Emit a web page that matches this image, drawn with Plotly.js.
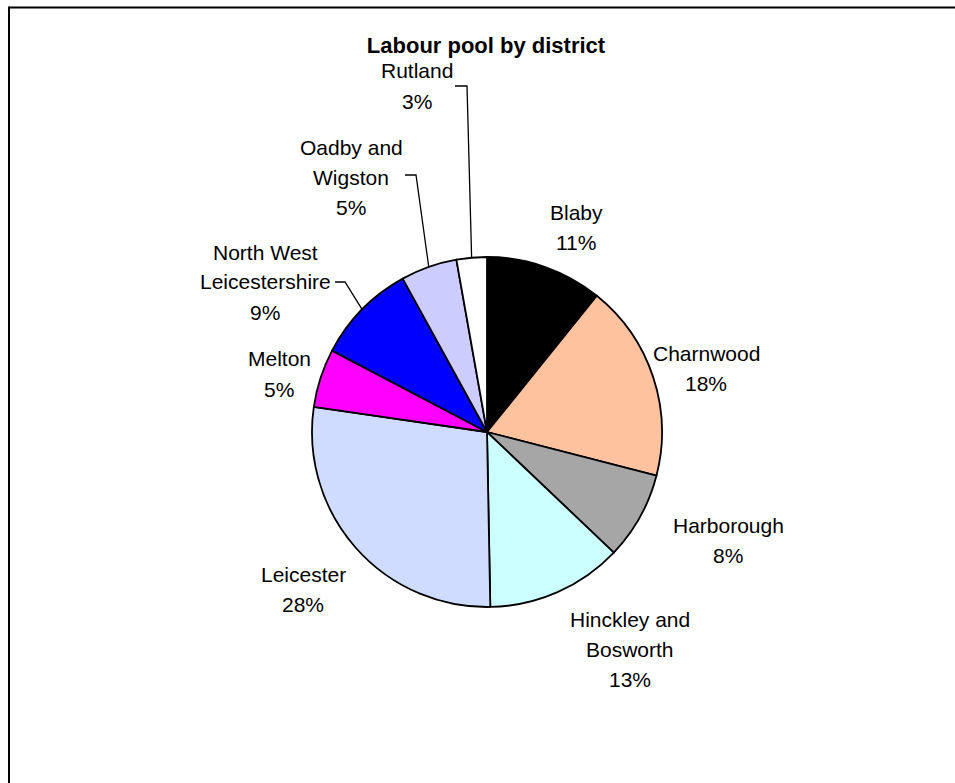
<!DOCTYPE html>
<html>
<head>
<meta charset="utf-8">
<script src="https://cdn.plot.ly/plotly-3.0.1.min.js"></script>
<style>html,body{margin:0;padding:0;background:#fff;}#chart{width:955px;height:783px;}</style>
</head>
<body>
<div id="chart"></div>
<script>
// ---- data ----
var districts = ['Blaby', 'Charnwood', 'Harborough', 'Hinckley and<br>Bosworth', 'Leicester',
                 'Melton', 'North West<br>Leicestershire', 'Oadby and<br>Wigston', 'Rutland'];
var shares = [10.8, 18.2, 8.1, 12.6, 27.6, 5.4, 9.3, 5.2, 2.8];
var sliceColors = ['#000000', '#FFC29E', '#A6A6A6', '#CCFFFF', '#D0DCFF',
                   '#FF00FF', '#0000FF', '#CCCCFF', '#FFFFFF'];
var chartTitle = 'Labour pool by district';

// ---- layout config (pixels) ----
var W = 955, H = 783;
var pieCx = 487, pieCy = 432, pieR = 175;
var lineGap = 30;
var labelPos = [[576, 212], [706, 353], [728, 525], [630, 619], [303, 574],
                [279, 359], [265, 252], [351, 147], [417, 71]];
// leader lines: [index, labelEndX, labelEndY, elbowX]
var leaders = [[8, 455, 86, 467], [7, 405, 175, 416], [6, 335, 282, 345]];

function px(x) { return x / W; }
function py(y) { return 1 - y / H; }

var total = shares.reduce(function (a, b) { return a + b; }, 0);
var annotations = [];
shares.forEach(function (v, i) {
  var lines = districts[i].split('<br>');
  lines.push(Math.round(v / total * 100) + '%');
  lines.forEach(function (t, k) {
    annotations.push({
      xref: 'paper', yref: 'paper',
      x: px(labelPos[i][0]), y: py(labelPos[i][1] + k * lineGap),
      xanchor: 'center', yanchor: 'middle',
      text: t, showarrow: false,
      font: {family: 'Liberation Sans, Arial, sans-serif', size: 21, color: '#000'}
    });
  });
});

// slice mid-angle points on pie edge
var cum = 0, midPts = [];
shares.forEach(function (v) {
  var a = (cum + v / 2) / total * 2 * Math.PI;
  midPts.push([pieCx + pieR * Math.sin(a), pieCy - pieR * Math.cos(a)]);
  cum += v;
});

var shapes = [
  {type: 'line', xref: 'paper', yref: 'paper', x0: px(9), x1: px(W + 5), y0: py(7.5), y1: py(7.5),
   line: {color: '#000', width: 2}},
  {type: 'line', xref: 'paper', yref: 'paper', x0: px(9), x1: px(9), y0: py(6.5), y1: py(H + 5),
   line: {color: '#000', width: 2}}
];
leaders.forEach(function (L) {
  var p = midPts[L[0]];
  var path = 'M ' + px(L[1]) + ' ' + py(L[2]) + ' L ' + px(L[3]) + ' ' + py(L[2]) +
             ' L ' + px(p[0]) + ' ' + py(p[1]);
  shapes.push({type: 'path', xref: 'paper', yref: 'paper', path: path,
               line: {color: '#000', width: 1.3}});
});

var trace = {
  type: 'pie',
  labels: districts,
  values: shares,
  sort: false,
  direction: 'clockwise',
  rotation: 0,
  textinfo: 'none',
  hoverinfo: 'label+percent',
  marker: {colors: sliceColors, line: {color: '#000', width: 1.8}},
  domain: {x: [px(pieCx - pieR), px(pieCx + pieR)], y: [py(pieCy + pieR), py(pieCy - pieR)]},
  showlegend: false
};

var layout = {
  width: W, height: H,
  margin: {l: 0, r: 0, t: 0, b: 0},
  paper_bgcolor: '#fff',
  showlegend: false,
  title: {
    text: '<b>' + chartTitle + '</b>',
    x: px(486), xanchor: 'center', xref: 'paper',
    y: py(45), yanchor: 'middle', yref: 'paper',
    font: {family: 'Liberation Sans, Arial, sans-serif', size: 22, color: '#000'}
  },
  annotations: annotations,
  shapes: shapes
};

Plotly.newPlot('chart', [trace], layout, {displayModeBar: false, staticPlot: true});
</script>
</body>
</html>
